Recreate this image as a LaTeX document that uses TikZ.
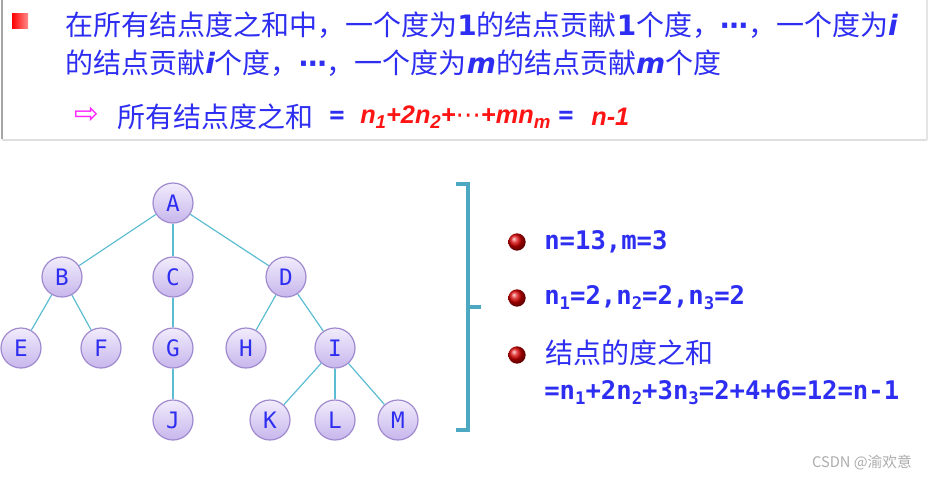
\documentclass[tikz,border=0pt]{standalone}
\usepackage{fontspec}
\usetikzlibrary{positioning}
\newfontfamily\cjk{Noto Sans CJK SC}
\newfontfamily\dvs{DejaVu Sans}
\newfontfamily\dvm{DejaVu Sans Mono}
\newfontfamily\lib{Liberation Sans}
\definecolor{txtblue}{HTML}{2E2EF2}
\definecolor{eqred}{HTML}{FF1414}
\definecolor{arrowpink}{HTML}{FF22FF}
\definecolor{edgecyan}{HTML}{5CBDD2}
\definecolor{nodeline}{HTML}{A08ACF}
\definecolor{nodetop}{HTML}{F1ECFC}
\definecolor{nodebot}{HTML}{C7B6EC}
\definecolor{bracecol}{HTML}{4DA9C1}
\newcommand{\bnum}[1]{{\dvs\bfseries #1}}
\newcommand{\bvar}[1]{{\dvs\bfseries\itshape #1}}
\newcommand{\cdotsbold}{{\dvs\bfseries ⋯}}
\newcommand{\lowsub}[1]{\raisebox{-0.35ex}{\fontsize{13}{13}\selectfont #1}}
\newcommand{\redsub}[1]{\raisebox{-0.35ex}{\fontsize{14}{14}\selectfont #1}}

\begin{document}
\begin{tikzpicture}[
    x=0.75pt, y=-0.75pt,
    toptext/.style={font=\cjk\fontsize{21}{28}\selectfont, text=txtblue, anchor=west, inner sep=0pt},
    redmath/.style={font=\lib\bfseries\itshape\fontsize{19}{24}\selectfont, text=eqred, anchor=west, inner sep=0pt},
    blueeq/.style={font=\dvm\bfseries\fontsize{19}{24}\selectfont, text=txtblue, anchor=west, inner sep=0pt},
    treenode/.style={circle, draw=nodeline, line width=0.9pt, top color=nodetop, bottom color=nodebot,
        minimum size=30pt, inner sep=0pt, text=txtblue, font=\dvm\fontsize{17}{17}\selectfont},
    treeedge/.style={draw=edgecyan, line width=0.9pt},
    ballbullet/.style={circle, minimum size=13pt, inner sep=0pt, shading=ball, ball color=red!85!black},
    rtext/.style={font=\dvm\bfseries\fontsize{19.2}{24}\selectfont, text=txtblue, anchor=west, inner sep=0pt},
]
\useasboundingbox (0,0) rectangle (928,480);
% top panel
\draw[gray!70, line width=1.2pt] (2,0) -- (2,139);
\draw[gray!25, line width=1.5pt] (2,140) -- (927,140);
\draw[gray!20, line width=1pt] (927,0) -- (927,140);
\fill[left color=red, right color=red!45!white] (12,13) rectangle (28,28);
\node[toptext] (line1) at (65,25) {在所有结点度之和中，一个度为\bnum{1}的结点贡献\bnum{1}个度，\cdotsbold，一个度为\bvar{i}};
\node[toptext] (line2) at (65,63) {的结点贡献\bvar{i}个度，\cdotsbold，一个度为\bvar{m}的结点贡献\bvar{m}个度};
\node[font=\dvs\fontsize{22}{22}\selectfont, text=arrowpink, inner sep=0pt] (arrow) at (87,115) {⇨};
\node[toptext] (sumtext) at (117,117) {所有结点度之和};
\node[blueeq] (eq1) at (329,117) {=};
\node[redmath] (sumexpr) at (360,117) {n\redsub{1}+2n\redsub{2}+{\dvs\mdseries\upshape ⋯}+mn\redsub{m}};
\node[blueeq] (eq2) at (558,117) {=};
\node[redmath] (result) at (591,117) {n-1};
% tree
\foreach \n/\x/\y in {A/173/203, B/62/277, C/173/277, D/286/277, E/21/348, F/101/348, G/173/348,
    H/246/348, I/335/348, J/173/420, K/270/420, L/335/420, M/398/420} {
    \node[treenode] (\n) at (\x,\y) {\n};
}
\foreach \p/\c in {A/B, A/C, A/D, B/E, B/F, C/G, G/J, D/H, D/I, I/K, I/L, I/M} {
    \draw[treeedge] (\p) -- (\c);
}
% bracket
\draw[bracecol, line width=2.4pt, line join=miter] (456,184) -- (468,184) -- (468,430) -- (456,430);
\draw[bracecol, line width=2.4pt] (468,307) -- (481,307);
% right side list
\node[ballbullet] (ball1) at (517,242) {};
\node[ballbullet] (ball2) at (517,298) {};
\node[ballbullet] (ball3) at (517,355) {};
\node[rtext] (nm) at (544,242) {n=13,m=3};
\node[rtext] (counts) at (544,298) {n\lowsub{1}=2,n\lowsub{2}=2,n\lowsub{3}=2};
\node[toptext] (degsum) at (545,353) {结点的度之和};
\node[rtext] (degcalc) at (544,393) {=n\lowsub{1}+2n\lowsub{2}+3n\lowsub{3}=2+4+6=12=n-1};
\node[font=\cjk\fontsize{11}{12}\selectfont, text=gray!65, anchor=east, inner sep=0pt] (mark) at (912,463) {CSDN @渝欢意};
\end{tikzpicture}
\end{document}
